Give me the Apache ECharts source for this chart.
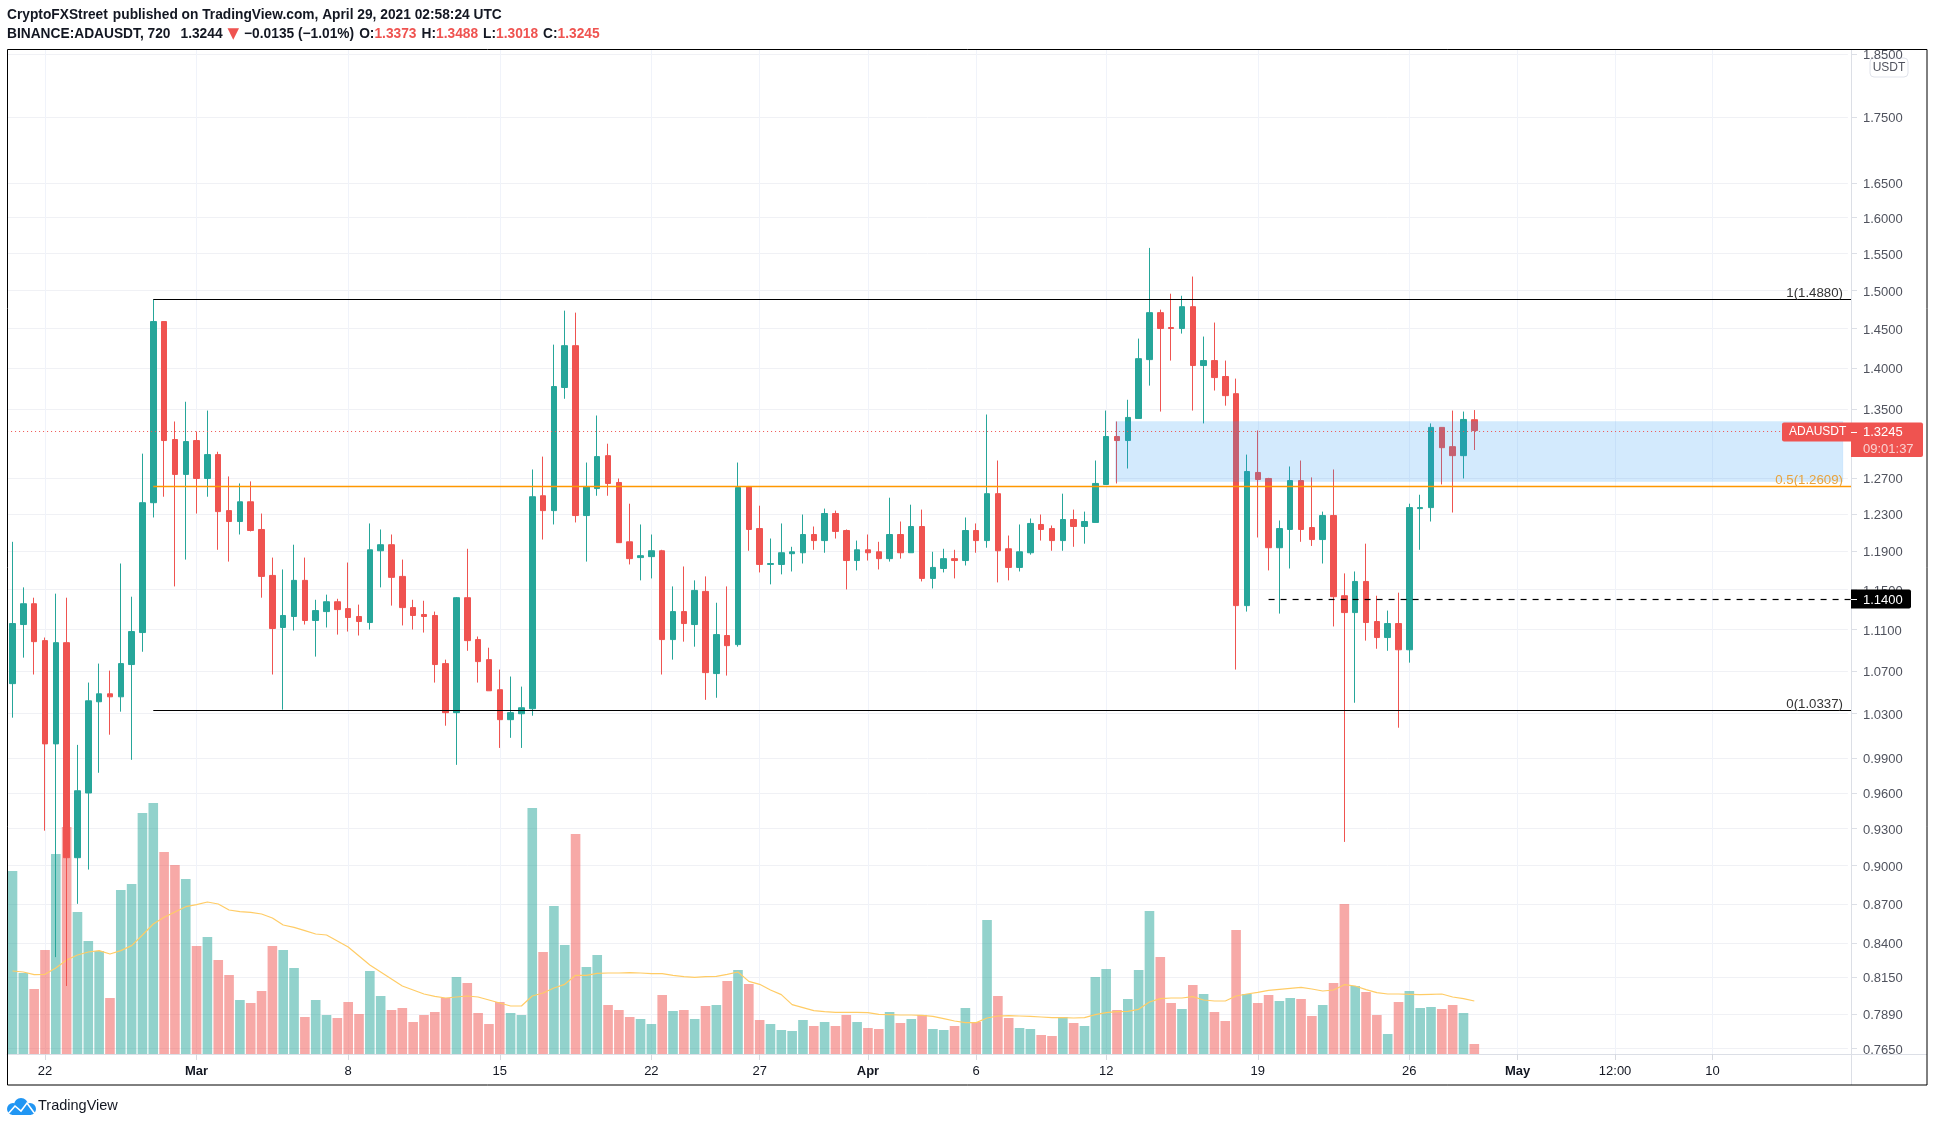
<!DOCTYPE html>
<html><head><meta charset="utf-8"><style>html,body{margin:0;padding:0;background:#fff}#c{width:1935px;height:1127px}</style>
<script src="https://cdn.jsdelivr.net/npm/echarts@6/dist/echarts.min.js"></script></head><body><div id="c"></div>
<script>
const opens=[1.0579,1.1149,1.1357,1.0991,1.0028,1.0971,.9064,.9600,1.0410,1.0484,
1.0456,1.0760,1.1070,1.2423,1.4591,1.3140,1.2739,1.3128,1.2693,1.2965,
1.2336,1.2217,1.2433,1.2131,1.1646,1.1120,1.1229,1.1595,1.1189,1.1278,
1.1377,1.1308,1.1229,1.1169,1.1904,1.1968,1.1636,1.1318,1.1249,1.1239,
1.0769,1.0310,1.1418,1.1001,1.0807,1.0522,1.0246,1.0300,1.0346,1.2500,
1.2336,1.3761,1.4282,1.2282,1.2580,1.2953,1.2648,1.1999,1.1832,1.1842,
1.1904,1.1001,1.1278,1.1149,1.1482,1.0674,1.1041,1.0952,1.2603,1.2141,
1.1760,1.1760,1.1873,1.1883,1.2077,1.2012,1.2304,1.2120,1.1801,1.1914,
1.1893,1.1821,1.2077,1.1883,1.2163,1.1615,1.1718,1.1821,1.1801,1.2120,
1.2012,1.2523,1.1925,1.1729,1.1883,1.2185,1.2141,1.2012,1.2239,1.2163,
1.2207,1.2626,1.3175,1.3128,1.3388,1.4106,1.4707,1.4514,1.4501,1.4785,
1.4032,1.4094,1.3896,1.3686,1.1338,1.2761,1.2693,1.1936,1.2131,1.2670,
1.2152,1.2023,1.2282,1.1438,1.1268,1.1584,1.1179,1.1021,1.1159,1.0902,
1.2358,1.2369,1.3282,1.3057,1.2953,1.3373];
const closes=[1.1159,1.1357,1.0981,1.0028,1.0971,.9064,.9619,1.0419,1.0484,1.0456,
1.0769,1.1080,1.2423,1.4591,1.3128,1.2739,1.3116,1.2693,1.2965,1.2325,
1.2217,1.2433,1.2120,1.1636,1.1110,1.1239,1.1595,1.1189,1.1288,1.1377,
1.1298,1.1219,1.1179,1.1914,1.1968,1.1626,1.1318,1.1239,1.1229,1.0760,
1.0310,1.1418,1.0991,1.0788,1.0512,1.0246,1.0310,1.0355,1.2489,1.2336,
1.3773,1.4282,1.2282,1.2603,1.2942,1.2637,1.1990,1.1821,1.1852,1.1904,
1.1001,1.1278,1.1159,1.1492,1.0683,1.1050,1.0942,1.2591,1.2131,1.1760,
1.1770,1.1883,1.1893,1.2077,1.2012,1.2304,1.2110,1.1801,1.1914,1.1883,
1.1821,1.2077,1.1883,1.2163,1.1615,1.1729,1.1821,1.1801,1.2120,1.2012,
1.2523,1.1904,1.1729,1.1893,1.2196,1.2131,1.2012,1.2239,1.2163,1.2217,
1.2637,1.3175,1.3128,1.3400,1.4118,1.4707,1.4501,1.4501,1.4785,1.4032,
1.4094,1.3883,1.3662,1.1338,1.2772,1.2682,1.1936,1.2141,1.2670,1.2131,
1.2023,1.2282,1.1428,1.1268,1.1584,1.1169,1.1021,1.1159,1.0902,1.2369,
1.2369,1.3282,1.3045,1.2953,1.3376,1.3245];
const lows=[1.0264,1.0826,1.0665,.9284,.8298,.8088,.8700,.8969,.9774,1.0110,
1.0319,.9887,1.0883,1.2261,1.2489,1.1533,1.1811,1.2304,1.2489,1.1914,
1.1790,1.2077,1.2110,1.1418,1.0665,1.0337,1.1090,1.1149,1.0836,1.1120,
1.1050,1.1080,1.1041,1.1100,1.1523,1.1338,1.1140,1.1100,1.1070,1.0589,
1.0191,.9843,1.0892,1.0589,1.0512,.9992,1.0082,.9992,1.0282,1.2023,
1.2185,1.3624,1.2207,1.1790,1.2500,1.2500,1.1990,1.1760,1.1595,1.1615,
1.0665,1.0807,1.0981,1.0932,1.0428,1.0447,1.0655,1.0932,1.1904,1.1677,
1.1554,1.1657,1.1687,1.1770,1.1914,1.1883,1.2034,1.1502,1.1698,1.1801,
1.1708,1.1790,1.1821,1.1883,1.1584,1.1512,1.1677,1.1615,1.1749,1.1883,
1.1936,1.1574,1.1595,1.1687,1.1863,1.2012,1.1904,1.1904,1.1946,1.1979,
1.2207,1.2626,1.2637,1.2806,1.3388,1.3784,1.3470,1.4094,1.4436,1.3482,
1.3329,1.3724,1.3541,1.0712,1.1278,1.2045,1.1698,1.1258,1.1718,1.1999,
1.1955,1.1770,1.1130,.9192,1.0401,1.0991,1.0912,1.0892,1.0173,1.0778,
1.1914,1.2217,1.2626,1.2315,1.2693,1.3018];
const highs=[1.1999,1.1523,1.1418,1.1021,1.1459,1.1418,1.0019,1.0589,1.0769,1.0702,
1.1770,1.1428,1.2976,1.4880,1.4591,1.3352,1.3588,1.3234,1.3482,1.2998,
1.2716,1.2637,1.2660,1.2304,1.1832,1.1708,1.1968,1.1832,1.1397,1.1449,
1.1407,1.1780,1.1348,1.2196,1.2131,1.2077,1.1811,1.1397,1.1387,1.1278,
1.0807,1.1425,1.1925,1.1031,1.0922,1.0712,1.0646,1.0551,1.2795,1.2942,
1.4295,1.4733,1.4707,1.2874,1.3423,1.3091,1.2693,1.2412,1.2185,1.2077,
1.1914,1.1533,1.1739,1.1595,1.1636,1.1367,1.1533,1.2874,1.2609,1.2390,
1.2034,1.2196,1.1946,1.2293,1.2163,1.2358,1.2336,1.2131,1.2012,1.2077,
1.1999,1.2478,1.2217,1.2401,1.2347,1.1893,1.1925,1.1914,1.2261,1.2196,
1.3435,1.2897,1.2066,1.2185,1.2250,1.2293,1.2174,1.2523,1.2347,1.2325,
1.2897,1.3482,1.3352,1.3612,1.4372,1.5577,1.4746,1.4956,1.4929,1.5186,
1.4398,1.4578,1.4094,1.3870,1.2965,1.3246,1.2700,1.2228,1.2829,1.2897,
1.2705,1.2325,1.2795,1.1667,1.1687,1.1979,1.1438,1.1288,1.1469,1.2412,
1.2511,1.3329,1.3285,1.3482,1.3470,1.3488];
const volumes=[549,243,195,312,600,681,426,339,309,168,
492,510,723,753,606,567,525,324,351,282,
237,162,153,189,324,312,258,111,162,117,
108,156,120,249,174,132,138,96,117,126,
168,231,213,123,90,156,123,117,738,306,
444,327,660,261,297,147,132,111,105,90,
177,129,132,105,144,147,219,252,210,102,
90,72,69,102,84,96,84,117,96,78,
75,126,93,105,117,75,72,84,138,96,
402,174,108,78,75,57,54,111,93,84,
231,255,132,165,252,429,291,153,135,207,
180,126,99,372,180,153,177,159,168,165,
114,147,213,450,204,186,117,60,156,189,
138,141,135,147,123,30];
const volumeMA=[249,246,238,239,258,282,297,306,310,300,
310,325,357,390,410,426,442,448,456,450,
432,427,425,420,408,387,380,370,360,357,
339,321,294,267,246,225,204,192,180,173,
168,171,174,171,162,153,144,144,174,183,
198,209,236,236,242,243,243,244,243,241,
241,236,232,230,232,233,239,246,218,209,
192,178,148,139,130,127,125,125,125,124,
119,118,117,117,116,113,106,99,94,94,
108,114,115,114,113,111,109,109,108,109,
118,124,127,128,134,156,166,168,168,172,
162,159,159,174,180,185,191,194,197,200,
195,189,192,208,204,193,184,180,180,179,
178,179,180,171,166,159];
const priceTicks=[1.85,1.75,1.65,1.6,1.55,1.5,1.45,1.4,1.35,1.27,1.23,1.19,1.15,1.11,1.07,1.03,.99,.96,.93,.9,.87,.84,.815,.789,.765];
const dateTickIndex=[3,17,31,45,59,69,79,89,101,115,129,139,148,157];
const dateTickText=["22","Mar","8","15","22","27","Apr","6","12","19","26","May","12:00","10"];
const monthTicks=["Mar","Apr","May"];
const categories=[];
{const t0=Date.UTC(2021,1,20,12);for(let i=0;i<170;i++){categories.push(new Date(t0+i*43200000).toISOString().slice(0,16))}}
const fibPrices=[1.488,1.2609,1.0337], fibLabels=["1(1.4880)","0.5(1.2609)","0(1.0337)"], fibColors=["#000000","#ff9800","#000000"], fibText=["#333333","#e8a33d","#333333"], fibStart=13;
const zoneTop=1.3352, zoneBottom=1.2659, zoneStart=102;
const lastPrice=1.3245, lastLabel="1.3245", countdown="09:01:37", symbol="ADAUSDT";
const levelPrice=1.14, levelStart=116, levelLabel="1.1400";

const FONT='"Liberation Sans",Arial,sans-serif';
const chart=echarts.init(document.getElementById('c'),null,{renderer:'canvas'});
const idxSet=new Set(dateTickIndex);
const snap=v=>Math.round(v)+.5;
const F=1851,G=1927,T=50,B=1054,BB=1085,X0=7.09,GW=1840.8;
const annotations=['zone','price','fib0','fib1','fib2','level','priceTag','levelTag'];
function renderAnn(params,api){
  const k=annotations[params.dataIndex],cs=params.coordSys,R=F,L=cs.x;
  const line=(x1,y,x2,stroke,w,dash)=>({type:'line',shape:{x1,y1:y,x2,y2:y},style:{stroke,lineWidth:w,lineDash:dash||null}});
  const txt=(x,y,text,fill,size,align,weight)=>({type:'text',x,y,style:{text,fill,font:(weight||'normal')+' '+size+'px '+FONT,textAlign:align||'left',textVerticalAlign:'middle'}});
  if(k==='zone'){
    const a=api.coord([zoneStart,zoneTop]),b=api.coord([zoneStart,zoneBottom]);
    return {type:'rect',shape:{x:a[0]-1.5,y:a[1],width:R-8-a[0]+1.5,height:b[1]-a[1]},style:{fill:'rgba(33,150,243,0.2)',stroke:'rgba(33,150,243,0.06)',lineWidth:1}};
  }
  if(k==='price'){const y=snap(api.coord([0,lastPrice])[1]);return line(L,y,R,'#ef5350',1,[1,3]);}
  if(k.startsWith('fib')){
    const n=+k[3],p=api.coord([fibStart,fibPrices[n]]),y=snap(p[1]);
    return {type:'group',children:[line(p[0],y,R,fibColors[n],n===1?1.6:1.2),txt(R-8,y-6,fibLabels[n],fibText[n],13.25,'right')]};
  }
  if(k==='level'){const p=api.coord([levelStart,levelPrice]),y=snap(p[1]);return line(p[0],y,R,'#000',1.2,[6,6]);}
  if(k==='priceTag'){
    const y=Math.round(api.coord([0,lastPrice])[1])+1;
    return {type:'group',children:[
      {type:'rect',shape:{x:R-69,y:y-9.5,width:141,height:19,r:2},style:{fill:'#ef5350'}},
      {type:'rect',shape:{x:R,y:y+8,width:72,height:17,r:[0,0,2,0]},style:{fill:'#ef5350'}},
      txt(R-62,y,symbol,'#fff',12,'left'),
      line(R,y+.5,R+6,'#fff',1),
      txt(R+12,y,lastLabel,'#fff',13,'left'),
      txt(R+12,y+17,countdown,'#f9d2d1',13,'left')]};
  }
  if(k==='levelTag'){
    const y=Math.round(api.coord([0,levelPrice])[1]);
    return {type:'group',children:[
      {type:'rect',shape:{x:R,y:y-9.5,width:60,height:19,r:[0,2,2,0]},style:{fill:'#000'}},
      line(R,y+.5,R+6,'#fff',1),
      txt(R+12,y+1,levelLabel,'#fff',13,'left')]};
  }
}
const HS=13.75;
chart.setOption({
  animation:false,backgroundColor:'#fff',textStyle:{fontFamily:FONT},
  title:[
   {left:7,top:6,padding:0,text:'{a|CryptoFXStreet} {n|published on TradingView.com, April 29, 2021 02:58:24 UTC}',
    textStyle:{rich:{a:{fontWeight:'bold',fontSize:HS,color:'#131722',fontFamily:FONT},n:{fontSize:HS,color:'#131722',fontFamily:FONT}}}},
   {left:7,top:25,padding:0,text:'{a|BINANCE:ADAUSDT, 720}  {n|1.3244} {t|▼} {n|−0.0135 (−1.01%)} {a|O:}{r|1.3373} {a|H:}{r|1.3488} {a|L:}{r|1.3018} {a|C:}{r|1.3245}',
    textStyle:{rich:{a:{fontWeight:'bold',fontSize:HS,color:'#131722',fontFamily:FONT},n:{fontSize:HS,color:'#131722',fontFamily:FONT},r:{fontSize:HS,color:'#ef5350',fontFamily:FONT},t:{fontSize:15,color:'#ef5350',fontFamily:'"DejaVu Sans"'}}}}
  ],
  grid:{left:X0,top:T,width:GW,height:B-T,containLabel:false},
  xAxis:{type:'category',data:categories,boundaryGap:true,
    axisLine:{lineStyle:{color:'#dcdfe6',width:1}},
    axisTick:{show:true,alignWithLabel:true,length:6,lineStyle:{color:'#d6d9e0'},interval:i=>idxSet.has(i)},
    axisLabel:{interval:i=>idxSet.has(i),margin:11,fontSize:13,color:'#131722',fontFamily:FONT,hideOverlap:false,showMinLabel:true,showMaxLabel:true,
      formatter:(v,i)=>{const t=dateTickText[dateTickIndex.indexOf(i)];return monthTicks.includes(t)?'{m|'+t+'}':t},
      rich:{m:{fontWeight:'bold',fontSize:13,color:'#131722',fontFamily:FONT}}},
    splitLine:{show:true,alignWithLabel:true,interval:i=>idxSet.has(i),lineStyle:{color:'#f0f3fa',width:1}}},
  yAxis:[
   {type:'log',logBase:10,position:'right',offset:F-X0-GW,min:.7614,max:1.857,scale:true,
    axisLine:{show:true,onZero:false,lineStyle:{color:'#dcdfe6'}},
    axisTick:{show:true,length:6,customValues:priceTicks,lineStyle:{color:'#dcdfe6'}},
    axisLabel:{customValues:priceTicks,margin:12,fontSize:13,color:'#50535e',fontFamily:FONT,formatter:v=>'{v|'+(+v).toFixed(4)+'}',
      rich:{v:{fontSize:13,color:'#50535e',fontFamily:FONT,padding:[3,0,0,0]}}},
    splitLine:{show:true,lineStyle:{color:'#f0f1f5',width:1}},minorTick:{show:false},minorSplitLine:{show:false}},
   {type:'value',min:0,max:3012,show:false,splitLine:{show:false}}
  ],
  graphic:[
   {type:'rect',silent:true,z:100,shape:{x:1855,y:36,width:65,height:13},style:{fill:'#fff'}},
   {type:'rect',silent:true,z:101,shape:{x:7.5,y:49.5,width:G-7.5,height:BB-49.5},style:{fill:'none',stroke:'#000',lineWidth:1}},
   {type:'line',silent:true,z:1,shape:{x1:F+.5,y1:B,x2:F+.5,y2:BB},style:{stroke:'#dcdfe6'}},
   {type:'line',silent:true,z:1,shape:{x1:X0+GW,y1:B+.5,x2:G,y2:B+.5},style:{stroke:'#dcdfe6'}},
   {type:'group',silent:true,z:102,x:1870,y:58,children:[
     {type:'rect',shape:{x:0,y:0,width:38,height:19,r:4},style:{fill:'#fff',stroke:'#e0e3eb',lineWidth:1}},
     {type:'text',x:19,y:10,style:{text:'USDT',fill:'#50535e',font:'12px '+FONT,textAlign:'center',textVerticalAlign:'middle'}}]},
   {type:'group',silent:true,z:102,x:7,y:1098,children:[
     {type:'circle',shape:{cx:6,cy:11,r:6},style:{fill:'#2196f3'}},
     {type:'circle',shape:{cx:14,cy:7,r:7},style:{fill:'#2196f3'}},
     {type:'circle',shape:{cx:23,cy:11,r:6},style:{fill:'#2196f3'}},
     {type:'rect',shape:{x:5,y:9,width:19,height:8},style:{fill:'#2196f3'}},
     {type:'polyline',shape:{points:[[1,16],[8,8],[14,13],[20,5],[28,16]]},style:{stroke:'#fff',lineWidth:1.6,fill:'none'}}]},
   {type:'text',silent:true,z:102,x:38,y:1106,style:{text:'TradingView',fill:'#131722',font:'14.5px '+FONT,textVerticalAlign:'middle'}}
  ],
  series:[
   {name:'Volume',type:'bar',yAxisIndex:1,z:1,barWidth:9.6,silent:true,clip:true,
    data:volumes.map((v,i)=>({value:v,itemStyle:{color:closes[i]<opens[i]?'rgba(239,83,80,0.5)':'rgba(38,166,154,0.5)'}}))},
   {name:'Volume MA',type:'line',yAxisIndex:1,z:2,data:volumeMA,symbol:'none',smooth:false,silent:true,lineStyle:{color:'#ffcc66',width:1.2}},
   {name:'ADAUSDT',type:'candlestick',yAxisIndex:0,z:3,barWidth:6,silent:true,clip:true,
    itemStyle:{color:'#26a69a',color0:'#ef5350',borderColor:'#26a69a',borderColor0:'#ef5350',borderWidth:1},
    data:opens.map((o,i)=>[o,closes[i],lows[i],highs[i]])},
   {name:'Drawings',type:'custom',xAxisIndex:0,yAxisIndex:0,z:5,silent:true,clip:false,renderItem:renderAnn,
    encode:{x:0,y:1},data:annotations.map(()=>[0,1.2])}
  ]
});
</script></body></html>
